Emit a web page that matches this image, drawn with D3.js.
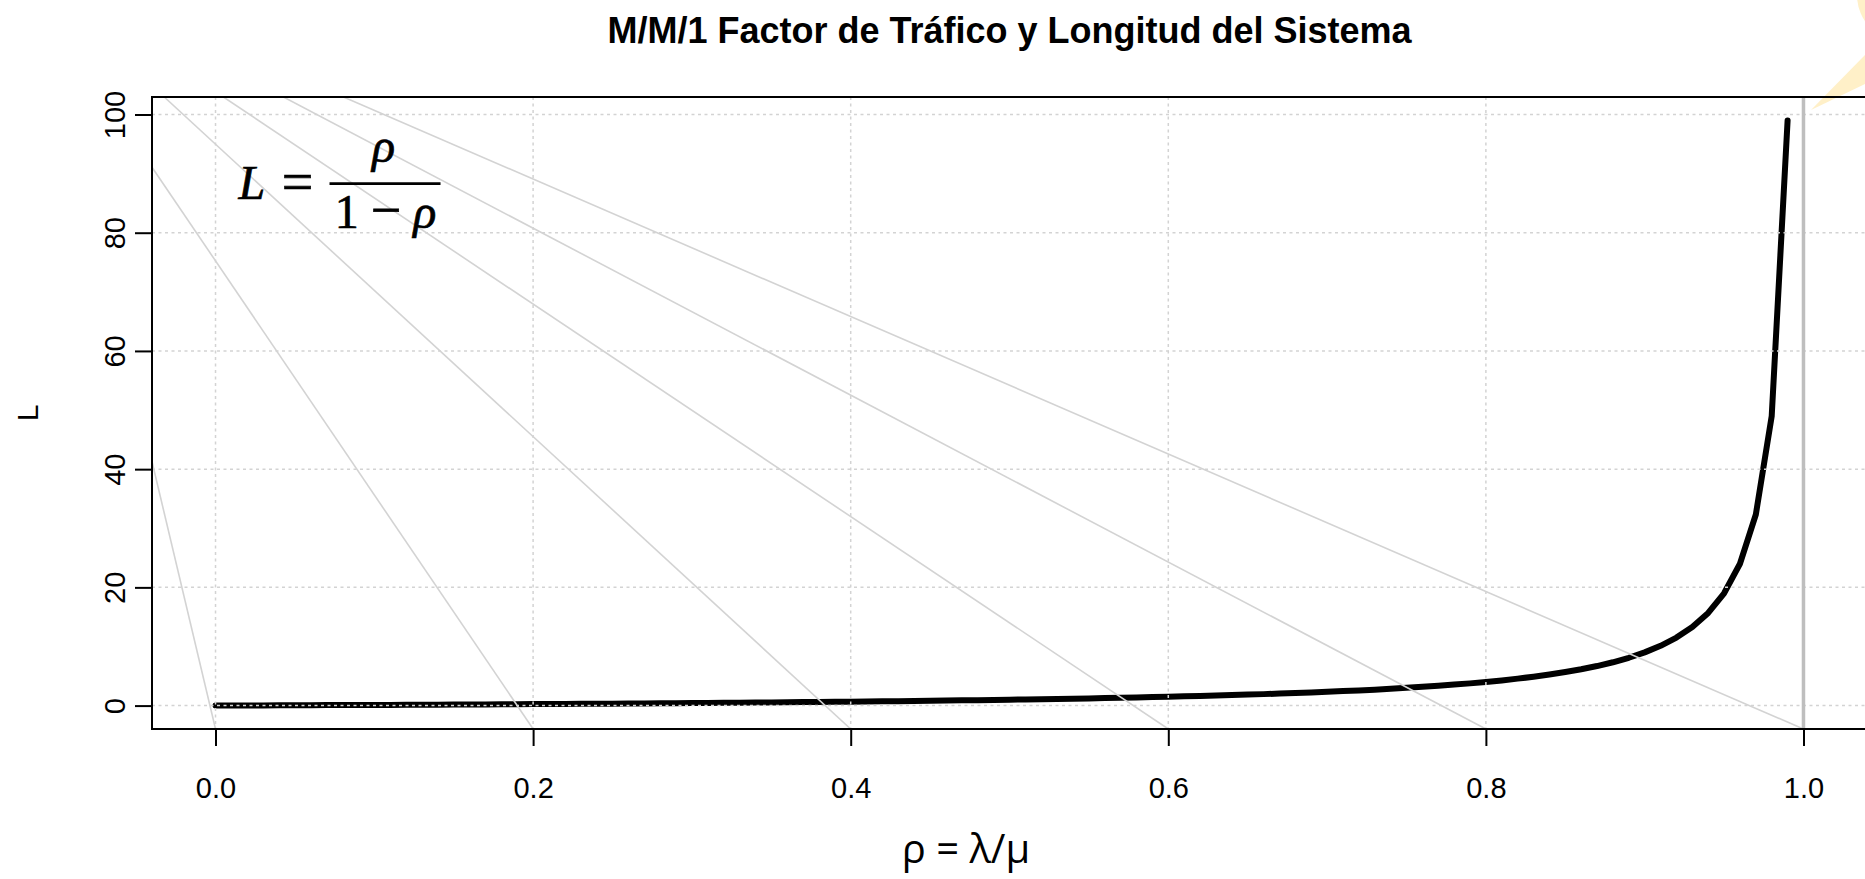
<!DOCTYPE html>
<html>
<head>
<meta charset="utf-8">
<script src="https://cdn.jsdelivr.net/npm/d3@7"></script>
<style>
  body { margin: 0; background: #ffffff; overflow: hidden; }
  svg { display: block; }
</style>
</head>
<body>
<div id="chart"></div>
<script>
// traffic factor rho and system length L
var rho = [0, 0.01, 0.02, 0.03, 0.04, 0.05, 0.06, 0.07, 0.08, 0.09,
  0.1, 0.11, 0.12, 0.13, 0.14, 0.15, 0.16, 0.17, 0.18, 0.19,
  0.2, 0.21, 0.22, 0.23, 0.24, 0.25, 0.26, 0.27, 0.28, 0.29,
  0.3, 0.31, 0.32, 0.33, 0.34, 0.35, 0.36, 0.37, 0.38, 0.39,
  0.4, 0.41, 0.42, 0.43, 0.44, 0.45, 0.46, 0.47, 0.48, 0.49,
  0.5, 0.51, 0.52, 0.53, 0.54, 0.55, 0.56, 0.57, 0.58, 0.59,
  0.6, 0.61, 0.62, 0.63, 0.64, 0.65, 0.66, 0.67, 0.68, 0.69,
  0.7, 0.71, 0.72, 0.73, 0.74, 0.75, 0.76, 0.77, 0.78, 0.79,
  0.8, 0.81, 0.82, 0.83, 0.84, 0.85, 0.86, 0.87, 0.88, 0.89,
  0.9, 0.91, 0.92, 0.93, 0.94, 0.95, 0.96, 0.97, 0.98, 0.99];

var lengthL = [0, 0.01, 0.02, 0.03, 0.04, 0.05, 0.06, 0.08, 0.09, 0.10,
  0.11, 0.12, 0.14, 0.15, 0.16, 0.18, 0.19, 0.20, 0.22, 0.23,
  0.25, 0.27, 0.28, 0.30, 0.32, 0.33, 0.35, 0.37, 0.39, 0.41,
  0.43, 0.45, 0.47, 0.49, 0.52, 0.54, 0.56, 0.59, 0.61, 0.64,
  0.67, 0.69, 0.72, 0.75, 0.79, 0.82, 0.85, 0.89, 0.92, 0.96,
  1.00, 1.04, 1.08, 1.13, 1.17, 1.22, 1.27, 1.33, 1.38, 1.44,
  1.50, 1.56, 1.63, 1.70, 1.78, 1.86, 1.94, 2.03, 2.13, 2.23,
  2.33, 2.45, 2.57, 2.70, 2.85, 3.00, 3.17, 3.35, 3.55, 3.76,
  4.00, 4.26, 4.56, 4.88, 5.25, 5.67, 6.14, 6.69, 7.33, 8.09,
  9.00, 10.11, 11.50, 13.29, 15.67, 19.00, 24.00, 32.33, 49.00, 99.00];

var xTicks = [0, 0.2, 0.4, 0.6, 0.8, 1.0];
var xTickLabels = ["0.0", "0.2", "0.4", "0.6", "0.8", "1.0"];
var yTicks = [0, 20, 40, 60, 80, 100];
var yTickLabels = ["0", "20", "40", "60", "80", "100"];

// light diagonal guides: where each meets the bottom and the top of the plot
var guideFoot = [0, 0.2, 0.4, 0.6, 0.8, 1.0];
var guideHead = [-0.0945, -0.070, -0.0323, 0.005, 0.0428, 0.0806];

// saturation line rho = 1
var limitRho = [1.0];

var W = 1865, H = 879;
var margin = {top: 97, left: 152},
    width = 1715,
    height = 632;

var x = d3.scaleLinear()
          .domain([-0.04, 1.04])
          .range([0, width]);
var y = d3.scaleLinear()
          .domain([-3.96, 102.96])
          .range([height, 0]);

var root = d3.select("#chart").append("svg")
    .attr("width", W)
    .attr("height", H)
    .style("background", "#ffffff");

// little yellow bubble cut off at the corner
root.append("circle")
    .attr("cx", 1904).attr("cy", -5).attr("r", 47)
    .attr("fill", "#fff0c8");
root.append("polygon")
    .attr("points", "1811,110 1865,55 1865,84")
    .attr("fill", "#fff0c8");

root.append("defs").append("clipPath")
    .attr("id", "plot-clip")
  .append("rect")
    .attr("width", width)
    .attr("height", height);

var svg = root.append("g")
    .attr("transform", "translate(" + margin.left + "," + margin.top + ")");

var plot = svg.append("g").attr("clip-path", "url(#plot-clip)");

// curve
var pts = rho.map(function(r, i) { return [r, lengthL[i]]; });
plot.append("path")
    .datum(pts)
    .attr("fill", "none")
    .attr("stroke", "#000000")
    .attr("stroke-width", 6)
    .attr("stroke-linejoin", "round")
    .attr("stroke-linecap", "round")
    .attr("d", d3.line()
      .x(function(d) { return x(d[0]); })
      .y(function(d) { return y(d[1]); }));

// grid
plot.selectAll(".gx")
    .data(xTicks)
  .enter().append("line")
    .attr("class", "gx")
    .attr("x1", function(d) { return x(d); })
    .attr("x2", function(d) { return x(d); })
    .attr("y1", 0)
    .attr("y2", height)
    .attr("stroke", "#d3d3d3")
    .attr("stroke-width", 1.5)
    .attr("stroke-dasharray", "3,3.5");
plot.selectAll(".gy")
    .data(yTicks)
  .enter().append("line")
    .attr("class", "gy")
    .attr("x1", 0)
    .attr("x2", width)
    .attr("y1", function(d) { return y(d); })
    .attr("y2", function(d) { return y(d); })
    .attr("stroke", "#d3d3d3")
    .attr("stroke-width", 1.5)
    .attr("stroke-dasharray", "3,3.5");

// diagonals
var yLo = y.domain()[0], yHi = y.domain()[1];
plot.selectAll(".guide")
    .data(guideFoot)
  .enter().append("line")
    .attr("class", "guide")
    .attr("x1", function(d, i) { return x(guideHead[i]); })
    .attr("y1", y(yHi))
    .attr("x2", function(d) { return x(d); })
    .attr("y2", y(yLo))
    .attr("stroke", "#d3d3d3")
    .attr("stroke-width", 1.6);

plot.selectAll(".limit")
    .data(limitRho)
  .enter().append("line")
    .attr("class", "limit")
    .attr("x1", function(d) { return x(d); })
    .attr("x2", function(d) { return x(d); })
    .attr("y1", 0)
    .attr("y2", height)
    .attr("stroke", "#bebebe")
    .attr("stroke-width", 3.5);

// axes
var xAxis = svg.append("g")
    .attr("transform", "translate(0," + height + ")")
    .call(d3.axisBottom(x)
      .tickValues(xTicks)
      .tickFormat(function(d, i) { return xTickLabels[i]; })
      .tickSize(17)
      .tickSizeOuter(0)
      .tickPadding(31));
var yAxis = svg.append("g")
    .call(d3.axisLeft(y)
      .tickValues(yTicks)
      .tickFormat(function(d, i) { return yTickLabels[i]; })
      .tickSize(17)
      .tickSizeOuter(0));

[xAxis, yAxis].forEach(function(a) {
  a.select(".domain").remove();
  a.selectAll(".tick line").attr("stroke", "#000").attr("stroke-width", 2);
  a.selectAll("text")
    .attr("fill", "#000")
    .style("font-family", "'Liberation Sans', Arial, sans-serif")
    .style("font-size", "29px");
});
yAxis.selectAll("text")
    .attr("x", null)
    .attr("dy", null)
    .attr("text-anchor", "middle")
    .attr("transform", "translate(-27,0) rotate(-90)");

svg.append("rect")
    .attr("width", width)
    .attr("height", height)
    .attr("fill", "none")
    .attr("stroke", "#000")
    .attr("stroke-width", 2);

// titles
root.append("text")
    .attr("x", margin.left + (width) / 2)
    .attr("y", 43)
    .attr("text-anchor", "middle")
    .style("font-family", "'Liberation Sans', Arial, sans-serif")
    .style("font-weight", "bold")
    .style("font-size", "36px")
    .text("M/M/1 Factor de Tráfico y Longitud del Sistema");

root.append("text")
    .attr("x", 966)
    .attr("y", 863)
    .attr("text-anchor", "middle")
    .style("font-family", "'Open Sans', 'Noto Sans', sans-serif")
    .style("font-size", "40px")
    .text("ρ = λ/μ");

root.append("text")
    .attr("transform", "translate(38," + (margin.top + height / 2) + ") rotate(-90)")
    .attr("text-anchor", "middle")
    .style("font-family", "'Liberation Sans', Arial, sans-serif")
    .style("font-size", "30px")
    .text("L");

// formula  L = rho / (1 - rho)
var fx = x(0), fy = y(88.3);
var formula = svg.append("g")
    .attr("transform", "translate(" + fx + "," + fy + ")")
    .style("font-family", "'Liberation Serif', 'DejaVu Serif', serif")
    .style("font-size", "48px")
    .attr("fill", "#000")
    .attr("stroke", "#000")
    .attr("stroke-width", 0.7);
formula.append("text")
    .attr("x", 23).attr("y", 15)
    .style("font-style", "italic")
    .text("L");
formula.append("text")
    .attr("x", 82).attr("y", 17)
    .attr("text-anchor", "middle")
    .style("font-size", "56px")
    .text("=");
formula.append("line")
    .attr("x1", 114).attr("x2", 225)
    .attr("y1", 0).attr("y2", 0)
    .attr("stroke", "#000")
    .attr("stroke-width", 2.8);
formula.append("text")
    .attr("x", 168).attr("y", -22)
    .attr("text-anchor", "middle")
    .style("font-style", "italic")
    .text("ρ");
var den = formula.append("text")
    .attr("x", 170).attr("y", 44)
    .attr("text-anchor", "middle");
den.append("tspan").text("1 ");
den.append("tspan").style("font-size", "54px").text("−");
den.append("tspan").style("font-style", "italic").text(" ρ");
</script>
</body>
</html>
